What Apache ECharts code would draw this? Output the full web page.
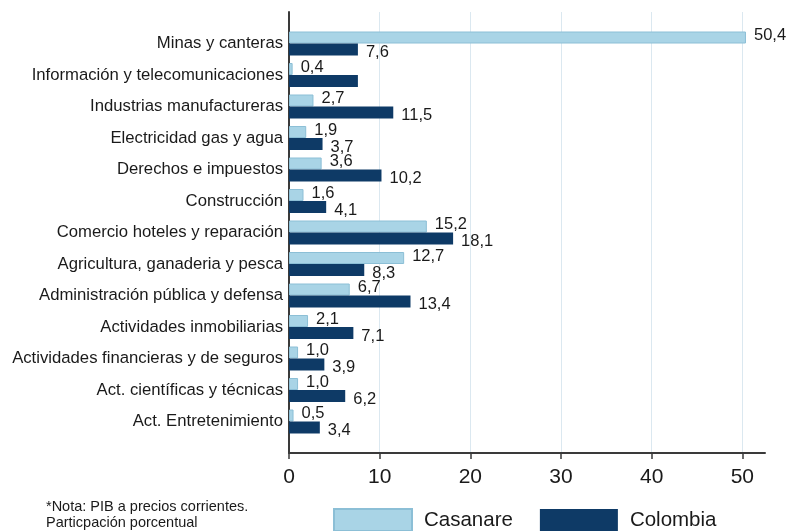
<!DOCTYPE html>
<html>
<head>
<meta charset="utf-8">
<script src="https://cdn.jsdelivr.net/npm/echarts@6/dist/echarts.min.js"></script>
<style>
html,body{margin:0;padding:0;background:#fff;}
#c{width:786px;height:531px;}
</style>
</head>
<body>
<div id="c"></div>
<script>
const categories = [
  'Minas y canteras',
  'Información y telecomunicaciones',
  'Industrias manufactureras',
  'Electricidad gas y agua',
  'Derechos e impuestos',
  'Construcción',
  'Comercio hoteles y reparación',
  'Agricultura, ganaderia y pesca',
  'Administración pública y defensa',
  'Actividades inmobiliarias',
  'Actividades financieras y de seguros',
  'Act. científicas y técnicas',
  'Act. Entretenimiento'
];
const casanare = [50.4, 0.4, 2.7, 1.9, 3.6, 1.6, 15.2, 12.7, 6.7, 2.1, 1.0, 1.0, 0.5];
const colombia = [7.6, 7.6, 11.5, 3.7, 10.2, 4.1, 18.1, 8.3, 13.4, 7.1, 3.9, 6.2, 3.4];
const hiddenColombiaLabels = [1];
const xTicks = [0, 10, 20, 30, 40, 50];
const seriesNames = ['Casanare', 'Colombia'];
const noteLines = ['*Nota: PIB a precios corrientes.', 'Particpación porcentual'];

// pad the category axis with one empty slot at each end
const cats = [''].concat(categories, ['']);
const pad = a => [null].concat(a, [null]);
const fmt = v => v.toFixed(1).replace('.', ',');

const chart = echarts.init(document.getElementById('c'));
const FONT = 'Liberation Sans, Arial, sans-serif';
chart.setOption({
  animation: false,
  textStyle: { fontFamily: FONT },
  grid: { left: 289, right: 21, top: 12, bottom: 78, containLabel: false },
  xAxis: {
    type: 'value', min: 0, max: 52.5, interval: 10,
    axisLine: { show: true, lineStyle: { color: '#3a3a3a', width: 2 } },
    axisTick: { show: true, length: 6, lineStyle: { color: '#3a3a3a', width: 1.5 }, customValues: xTicks },
    axisLabel: { fontSize: 21, color: '#1a1a1a', margin: 14, customValues: xTicks, fontFamily: FONT },
    splitLine: { show: true, lineStyle: { color: '#dbe8f0', width: 1 } }
  },
  yAxis: {
    type: 'category', data: cats, inverse: true, boundaryGap: false,
    axisLine: { show: true, lineStyle: { color: '#3a3a3a', width: 2 } },
    axisTick: { show: false },
    axisLabel: { fontSize: 16.7, color: '#1a1a1a', margin: 6, fontFamily: FONT, interval: 0 },
    splitLine: { show: false }
  },
  legend: {
    top: 503, left: 328, itemWidth: 78, itemHeight: 22, itemGap: 27,
    icon: 'rect',
    textStyle: { fontSize: 20.5, color: '#1a1a1a', fontFamily: FONT, padding: [0, 0, 0, 7] },
    data: seriesNames
  },
  graphic: [{
    type: 'text', left: 46, top: 499,
    style: { text: noteLines.join('\n'), fontSize: 14.5, lineHeight: 16, fill: '#1a1a1a', fontFamily: FONT }
  }],
  series: [
    {
      name: seriesNames[0], type: 'bar', data: pad(casanare),
      barWidth: 12, barGap: '0%',
      itemStyle: { color: '#a9d4e6', borderColor: '#8cbfd6', borderWidth: 1 },
      label: { show: true, position: 'right', distance: 8, offset: [0, -2], fontSize: 16.5, color: '#1a1a1a',
        fontFamily: FONT, formatter: p => p.value == null ? '' : fmt(p.value) }
    },
    {
      name: seriesNames[1], type: 'bar', data: pad(colombia),
      barWidth: 12, barGap: '0%',
      itemStyle: { color: '#0e3a66' },
      label: { show: true, position: 'right', distance: 8, offset: [0, 3], fontSize: 16.5, color: '#1a1a1a',
        fontFamily: FONT, formatter: p => (p.value == null || hiddenColombiaLabels.indexOf(p.dataIndex - 1) >= 0) ? '' : fmt(p.value) }
    }
  ]
});
</script>
</body>
</html>
